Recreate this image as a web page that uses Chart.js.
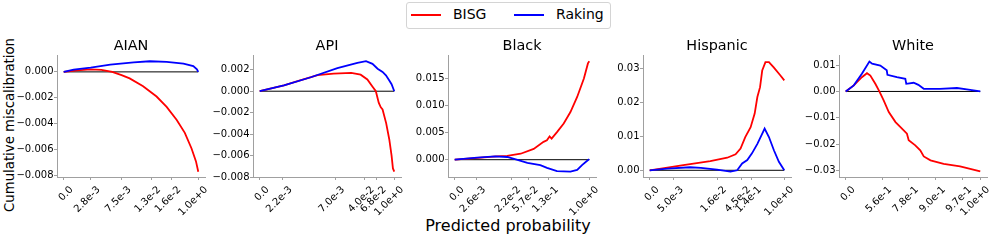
<!DOCTYPE html>
<html>
<head>
<meta charset="utf-8">
<script src="https://cdn.jsdelivr.net/npm/chart.js@4.4.1/dist/chart.umd.min.js"></script>
<style>
  body { margin: 0; background: #fff; font-family: "DejaVu Sans", sans-serif; }
  #fig { position: relative; width: 996px; height: 240px; overflow: hidden; }
  #fig canvas { position: absolute; top: 30px; }
  #legend { position: absolute; left: 406px; top: 2px; width: 203px; height: 25px; border: 1px solid #d4d4d4; border-radius: 3px; }
  #legend .swatch { position: absolute; top: 11px; width: 30px; height: 0; border-top: 2px solid; }
  #legend .lbl { position: absolute; top: 4px; font-size: 14px; line-height: 14px; color: #000; }
  #ylab { position: absolute; left: 9.5px; top: 125px; font-size: 13.3px; line-height: 13.3px; white-space: nowrap; transform: translate(-50%, -50%) rotate(-90deg); }
  #xlab { position: absolute; left: 508px; top: 217.5px; font-size: 16px; line-height: 16px; white-space: nowrap; transform: translateX(-50%); }
</style>
</head>
<body>
<div id="fig">
  <div id="legend">
    <div class="swatch" style="left:4px;border-color:#ff0000"></div>
    <div class="lbl" style="left:46px">BISG</div>
    <div class="swatch" style="left:107px;border-color:#0000ff"></div>
    <div class="lbl" style="left:149px">Raking</div>
  </div>
  <div id="ylab">Cumulative miscalibration</div>
  <div id="xlab">Predicted probability</div>
  <canvas id="c0" width="217" height="210" style="left:0px"></canvas>
  <canvas id="c1" width="217" height="210" style="left:196px"></canvas>
  <canvas id="c2" width="217" height="210" style="left:391px"></canvas>
  <canvas id="c3" width="217" height="210" style="left:586px"></canvas>
  <canvas id="c4" width="217" height="210" style="left:782px"></canvas>
</div>
<script>
// x = share of people sorted by predicted probability, y = cumulative miscalibration
var aianBisgX = [0, 0.1, 0.2, 0.28, 0.36, 0.43, 0.49, 0.59, 0.69, 0.765, 0.84, 0.9, 0.95, 0.983, 1.0];
var aianBisgY = [0, 0.00012, 0.0002, 0.00015, 0, -0.00025, -0.0005, -0.0011, -0.0019, -0.0027, -0.0037, -0.0047, -0.0059, -0.0069, -0.0077];
var aianRakingX = [0, 0.074, 0.2, 0.346, 0.52, 0.64, 0.765, 0.89, 0.963, 0.99, 1.0];
var aianRakingY = [0, 0.00018, 0.00033, 0.00056, 0.00074, 0.00082, 0.00077, 0.00064, 0.00044, 0.0002, 0];
var aianXTicks = [0, 0.2, 0.43, 0.65, 0.8, 1];
var aianXLabels = ['0.0', '2.8e-3', '7.5e-3', '1.3e-2', '1.6e-2', '1.0e+0'];
var aianYTicks = [0, -0.002, -0.004, -0.006, -0.008];

var apiBisgX = [0, 0.18, 0.3, 0.43, 0.55, 0.68, 0.75, 0.8, 0.84, 0.863, 0.885, 0.9, 0.913, 0.94, 0.963, 0.98, 0.99, 1.0];
var apiBisgY = [0, 0.00055, 0.001, 0.0015, 0.00163, 0.0017, 0.00154, 0.0011, 0.0004, 0, -0.0011, -0.0015, -0.0017, -0.003, -0.0045, -0.006, -0.0072, -0.0075];
var apiRakingX = [0, 0.18, 0.38, 0.577, 0.726, 0.79, 0.838, 0.876, 0.913, 0.938, 0.963, 0.98, 1.0];
var apiRakingY = [0, 0.00055, 0.0013, 0.00215, 0.00265, 0.0028, 0.00255, 0.0021, 0.0018, 0.00148, 0.001, 0.00065, 0];
var apiXTicks = [0, 0.17, 0.56, 0.78, 0.87, 1];
var apiXLabels = ['0.0', '2.2e-3', '7.0e-3', '4.0e-2', '6.8e-2', '1.0e+0'];
var apiYTicks = [0.002, 0, -0.002, -0.004, -0.006, -0.008];

var blackBisgX = [0, 0.15, 0.31, 0.39, 0.49, 0.587, 0.66, 0.685, 0.705, 0.72, 0.76, 0.81, 0.86, 0.91, 0.96, 0.99, 1.0];
var blackBisgY = [0, 0.0003, 0.0006, 0.0007, 0.0011, 0.002, 0.0033, 0.0036, 0.0043, 0.0039, 0.0051, 0.0067, 0.0088, 0.0116, 0.015, 0.0178, 0.0182];
var blackRakingX = [0, 0.166, 0.3, 0.39, 0.46, 0.54, 0.636, 0.686, 0.76, 0.86, 0.91, 0.946, 0.98, 1.0];
var blackRakingY = [0, 0.00037, 0.0006, 0.0005, 0, -0.0006, -0.001, -0.0015, -0.0021, -0.0022, -0.0019, -0.001, -0.0003, 0.0001];
var blackXTicks = [0, 0.16, 0.42, 0.55, 0.7, 1];
var blackXLabels = ['0.0', '2.6e-3', '2.2e-2', '5.7e-2', '1.3e-1', '1.0e+0'];
var blackYTicks = [0, 0.005, 0.01, 0.015];

var hispBisgX = [0, 0.25, 0.45, 0.576, 0.638, 0.675, 0.71, 0.75, 0.78, 0.8, 0.82, 0.836, 0.86, 0.886, 0.92, 0.97, 1.0];
var hispBisgY = [0, 0.0015, 0.0027, 0.0037, 0.0047, 0.0064, 0.0098, 0.0127, 0.0167, 0.0216, 0.0245, 0.0294, 0.0319, 0.0319, 0.0304, 0.028, 0.0265];
var hispRakingX = [0, 0.13, 0.3, 0.38, 0.5, 0.6, 0.65, 0.687, 0.725, 0.76, 0.8, 0.824, 0.854, 0.886, 0.923, 0.96, 1.0];
var hispRakingY = [0, 0.0005, 0.0009, 0.0007, 0.0002, -0.0004, 0, 0.002, 0.003, 0.005, 0.0078, 0.0098, 0.0123, 0.0098, 0.0059, 0.0025, 0];
var hispXTicks = [0, 0.18, 0.5, 0.68, 0.76, 1];
var hispXLabels = ['0.0', '5.0e-3', '1.6e-2', '4.5e-2', '1.4e-1', '1.0e+0'];
var hispYTicks = [0, 0.01, 0.02, 0.03];

var whiteBisgX = [0, 0.06, 0.12, 0.158, 0.183, 0.22, 0.25, 0.282, 0.32, 0.37, 0.418, 0.455, 0.468, 0.517, 0.554, 0.58, 0.63, 0.728, 0.85, 1.0];
var whiteBisgY = [0, 0.0023, 0.0054, 0.0069, 0.006, 0.0029, 0, -0.0034, -0.0078, -0.0116, -0.0141, -0.016, -0.0185, -0.0204, -0.0223, -0.0246, -0.0261, -0.0274, -0.0284, -0.0303];
var whiteRakingX = [0, 0.06, 0.12, 0.176, 0.196, 0.257, 0.305, 0.31, 0.38, 0.443, 0.45, 0.505, 0.54, 0.58, 0.7, 0.827, 0.9, 1.0];
var whiteRakingY = [0, 0.0023, 0.0067, 0.0113, 0.0105, 0.0098, 0.008, 0.0063, 0.0054, 0.0048, 0.0029, 0.0033, 0.0025, 0.001, 0.001, 0.0013, 0.0008, 0];
var whiteXTicks = [0, 0.27, 0.47, 0.67, 0.866, 1];
var whiteXLabels = ['0.0', '5.6e-1', '7.8e-1', '9.0e-1', '9.7e-1', '1.0e+0'];
var whiteYTicks = [0.01, 0, -0.01, -0.02, -0.03];

var spineColor = '#a0a0a0';
var tickFont = { family: 'DejaVu Sans', size: 10 };

function points(xs, ys) {
	return xs.map(function (x, i) { return { x: x, y: ys[i] }; });
}

function fmt(v, d) {
	if (Math.abs(v) < 1e-12) return (0).toFixed(d);
	return (v < 0 ? '\u2212' : '') + Math.abs(v).toFixed(d);
}

function makePanel(id, title, bisgX, bisgY, rakingX, rakingY, xTicks, xLabels, yTicks, yMin, yMax, dec) {
	var ctx = document.getElementById(id).getContext('2d');
	return new Chart(ctx, {
		type: 'line',
		data: {
			datasets: [
				{ data: points(rakingX, rakingY), borderColor: '#0000ff', borderWidth: 1.8 },
				{ data: points(bisgX, bisgY), borderColor: '#ff0000', borderWidth: 1.8 },
				{ data: points([0, 1], [0, 0]), borderColor: '#000000', borderWidth: 1 }
			]
		},
		options: {
			responsive: false,
			animation: false,
			events: [],
			devicePixelRatio: 1,
			layout: { padding: { left: 0, right: 12, top: 0, bottom: 0 } },
			elements: { point: { radius: 0 }, line: { tension: 0 } },
			plugins: {
				legend: { display: false },
				tooltip: { enabled: false },
				title: {
					display: true, text: title, fullSize: false, color: '#000',
					padding: { top: 8, bottom: 0 },
					font: { family: 'DejaVu Sans', size: 14.4, weight: 'normal' }
				}
			},
			scales: {
				x: {
					type: 'linear', min: -0.05, max: 1.05,
					afterBuildTicks: function (s) { s.ticks = xTicks.map(function (v) { return { value: v }; }); },
					afterFit: function (s) { s.height = 63; },
					grid: { drawOnChartArea: false, drawTicks: true, tickLength: 3, color: spineColor },
					border: { display: true, color: spineColor, width: 1 },
					ticks: {
						autoSkip: false, minRotation: 45, maxRotation: 45, labelOffset: 8, padding: 4,
						color: '#000', font: tickFont,
						callback: function (v, i) { return xLabels[i]; }
					}
				},
				y: {
					type: 'linear', min: yMin, max: yMax,
					afterBuildTicks: function (s) { s.ticks = yTicks.map(function (v) { return { value: v }; }); },
					afterFit: function (s) { s.width = 57; },
					grid: { drawOnChartArea: false, drawTicks: true, tickLength: 3, color: spineColor },
					border: { display: true, color: spineColor, width: 1 },
					ticks: {
						padding: 0.5, color: '#000', font: tickFont,
						callback: function (v) { return fmt(v, dec); }
					}
				}
			}
		}
	});
}

makePanel('c0', 'AIAN', aianBisgX, aianBisgY, aianRakingX, aianRakingY, aianXTicks, aianXLabels, aianYTicks, -0.0081, 0.00128, 3);
makePanel('c1', 'API', apiBisgX, apiBisgY, apiRakingX, apiRakingY, apiXTicks, apiXLabels, apiYTicks, -0.0080, 0.00335, 3);
makePanel('c2', 'Black', blackBisgX, blackBisgY, blackRakingX, blackRakingY, blackXTicks, blackXLabels, blackYTicks, -0.0032, 0.0193, 3);
makePanel('c3', 'Hispanic', hispBisgX, hispBisgY, hispRakingX, hispRakingY, hispXTicks, hispXLabels, hispYTicks, -0.00198, 0.0339, 2);
makePanel('c4', 'White', whiteBisgX, whiteBisgY, whiteRakingX, whiteRakingY, whiteXTicks, whiteXLabels, whiteYTicks, -0.0324, 0.0137, 2);
</script>
</body>
</html>
